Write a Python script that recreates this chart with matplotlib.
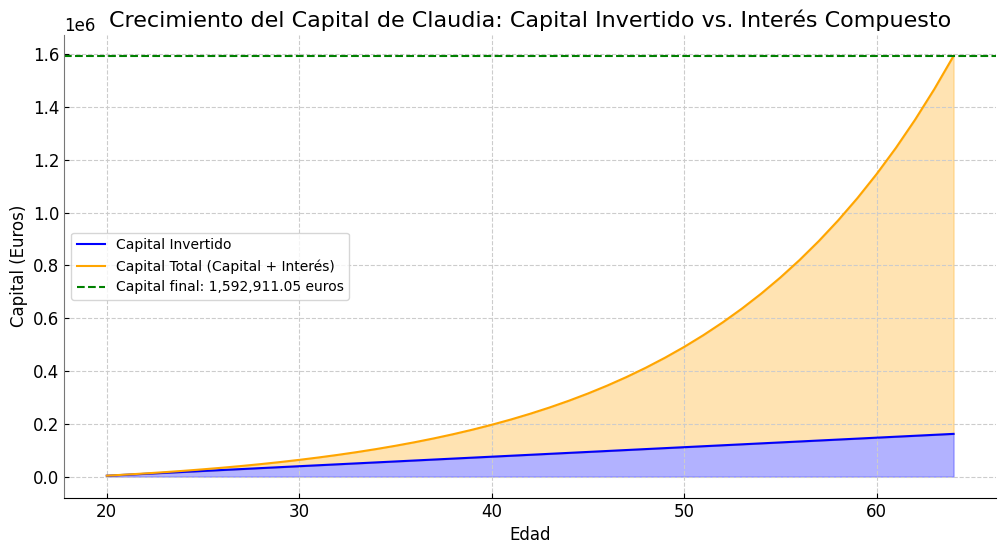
import numpy as np
import matplotlib.pyplot as plt

# ages and capital values
edad = list(range(20, 65))
capital_invertido = [3600 * (i + 1) for i in range(45)]
capital_total = [
    3760, 7832, 12242, 17018, 22190, 27792, 33858, 40429, 47544, 55250,
    63596, 72634, 82423, 93024, 104505, 116938, 130404, 144988, 160781, 177886,
    196411, 216473, 238200, 261730, 287214, 314812, 344702, 377072, 412129, 450095,
    491213, 535743, 583970, 636199, 692764, 754023, 820367, 892218, 970031, 1054304,
    1145571, 1244413, 1351460, 1467391, 1592911,
]
capital_final = 1592911.05

fig, ax = plt.subplots(figsize=(10.07, 5.53), dpi=100)
fig.subplots_adjust(left=0.064, right=0.989, top=0.937, bottom=0.1)

ax.plot(edad, capital_invertido, color='blue', label='Capital Invertido')
ax.plot(edad, capital_total, color='orange', label='Capital Total (Capital + Interés)')
ax.fill_between(edad, 0, capital_invertido, color='blue', alpha=0.3)
ax.fill_between(edad, capital_invertido, capital_total, color='orange', alpha=0.3)
ax.axhline(capital_final, color='green', linestyle='--',
           label=f'Capital final: {capital_final:,.2f} euros')

ax.set_title('Crecimiento del Capital de Claudia: Capital Invertido vs. Interés Compuesto', fontsize=16)
ax.set_xlabel('Edad', fontsize=12)
ax.set_ylabel('Capital (Euros)', fontsize=12)
ax.tick_params(labelsize=12, direction='in')
ax.yaxis.get_offset_text().set_fontsize(12)
ax.grid(True, linestyle='--', color='#cccccc', linewidth=0.8)
ax.spines['top'].set_visible(False)
ax.spines['right'].set_visible(False)
ax.spines['left'].set_color('#777777')
ax.legend(loc='center left', fontsize=10)

plt.savefig('out.png')
